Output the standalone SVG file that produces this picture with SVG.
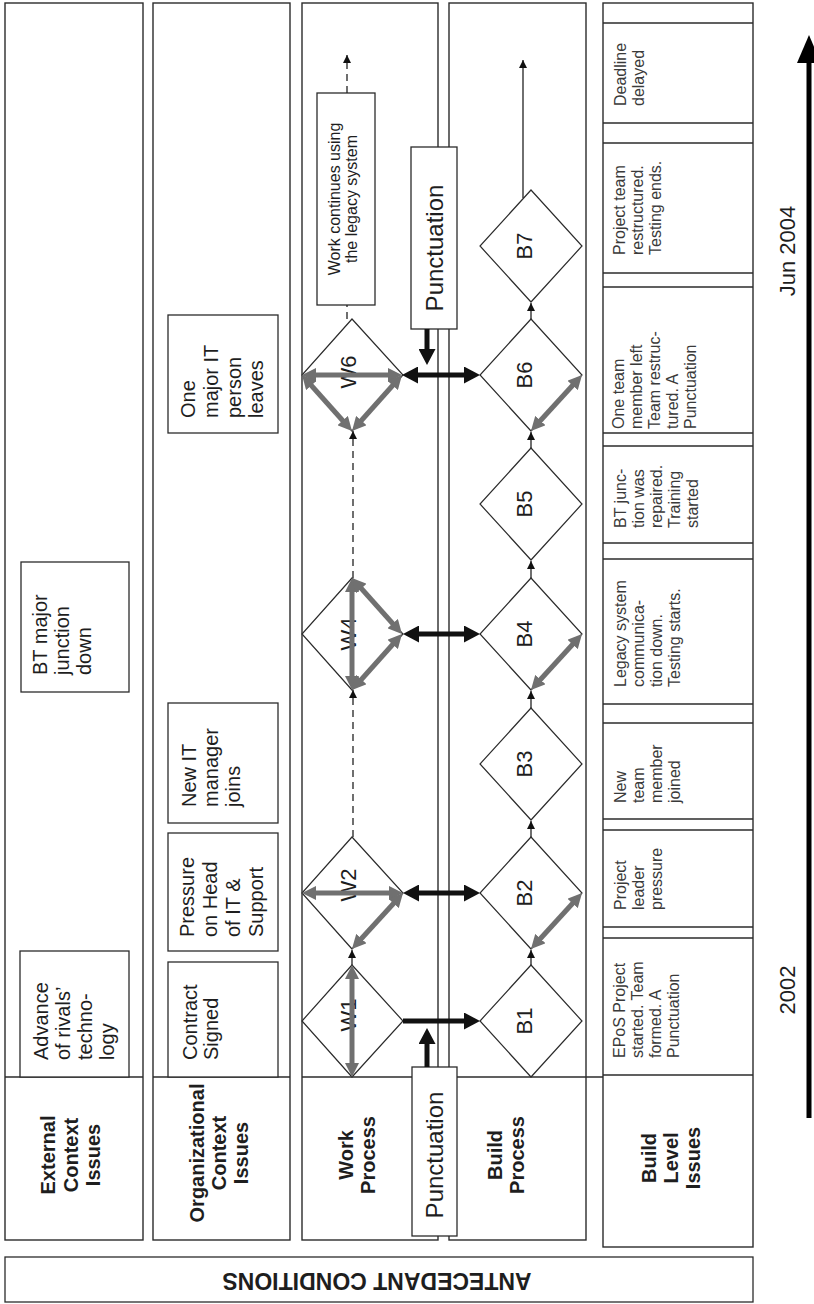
<svg xmlns="http://www.w3.org/2000/svg" width="814" height="1304" viewBox="0 0 814 1304">
  <style>
    .frame { fill: none; stroke: #2b2b2b; stroke-width: 1.4; }
    .box { fill: #fff; stroke: #2b2b2b; stroke-width: 1.3; }
    .dia { fill: #fff; stroke: #2b2b2b; stroke-width: 1.2; }
    .rule { stroke: #2b2b2b; stroke-width: 1.3; }
    text { font-family: "Liberation Sans", Arial, sans-serif; fill: #1e1e1e; }
    .hdr { font-weight: bold; font-size: 20px; text-anchor: middle; }
    .txt { font-size: 20px; }
    .cell { font-size: 16px; fill: #3a3a3a; }
    .lbl { font-size: 22px; text-anchor: middle; }
    .pun { font-size: 24px; text-anchor: middle; }
    .note { font-size: 16px; text-anchor: middle; }
    .axis { font-size: 22px; text-anchor: middle; }
    .blk { stroke: #111; stroke-width: 5; fill: none; }
    .gry { stroke: #707070; stroke-width: 5; fill: none; }
    .thin { stroke: #222; stroke-width: 1.3; fill: none; }
    .dash { stroke-dasharray: 7 5; }
  </style>
  <defs>
    <marker id="bigHead" viewBox="0 -8.5 16 17" refX="8" refY="0" markerWidth="16" markerHeight="17" markerUnits="userSpaceOnUse" orient="auto-start-reverse">
      <path d="M0,-8.5 L16,0 L0,8.5 z" fill="#111"/>
    </marker>
    <marker id="grayHead" viewBox="0 -7 14 14" refX="8" refY="0" markerWidth="14" markerHeight="14" markerUnits="userSpaceOnUse" orient="auto-start-reverse">
      <path d="M0,-7 L14,0 L0,7 z" fill="#707070"/>
    </marker>
    <marker id="smallHead" viewBox="0 -4 8 8" refX="8" refY="0" markerWidth="8" markerHeight="8" markerUnits="userSpaceOnUse" orient="auto">
      <path d="M0,-4 L8,0 L0,4 z" fill="#111"/>
    </marker>
    <marker id="axisHead" viewBox="0 -12 28 24" refX="4" refY="0" markerWidth="28" markerHeight="24" markerUnits="userSpaceOnUse" orient="auto">
      <path d="M0,-12 L28,0 L0,12 z" fill="#000"/>
    </marker>
  </defs>

  <!-- swim-lane columns -->
  <g id="lanes">
    <rect class="frame" x="5" y="3" width="138" height="1237"/>
    <line class="rule" x1="5" y1="1077" x2="143" y2="1077"/>
    <rect class="frame" x="153" y="3" width="137" height="1237"/>
    <line class="rule" x1="153" y1="1077" x2="290" y2="1077"/>
    <rect class="frame" x="302" y="3" width="136" height="1237"/>
    <rect class="frame" x="449" y="3" width="137" height="1237"/>
    <line class="rule" x1="302" y1="1077" x2="603" y2="1077"/>
    <rect class="frame" x="603" y="3" width="150" height="1244"/>
    <line class="rule" x1="603" y1="1075" x2="753" y2="1075" stroke-width="2"/>
    <g class="rule">
      <line x1="603" y1="23" x2="753" y2="23"/>
      <line x1="603" y1="123" x2="753" y2="123"/>
      <line x1="603" y1="143" x2="753" y2="143"/>
      <line x1="603" y1="273" x2="753" y2="273"/>
      <line x1="603" y1="287" x2="753" y2="287"/>
      <line x1="603" y1="433" x2="753" y2="433"/>
      <line x1="603" y1="446" x2="753" y2="446"/>
      <line x1="603" y1="543" x2="753" y2="543"/>
      <line x1="603" y1="559" x2="753" y2="559"/>
      <line x1="603" y1="704" x2="753" y2="704"/>
      <line x1="603" y1="723" x2="753" y2="723"/>
      <line x1="603" y1="819" x2="753" y2="819"/>
      <line x1="603" y1="830" x2="753" y2="830"/>
      <line x1="603" y1="927" x2="753" y2="927"/>
      <line x1="603" y1="938" x2="753" y2="938"/>
    </g>
  </g>

  <!-- lane headers -->
  <g id="hdr-external">
    <text class="hdr" transform="translate(55,1155) rotate(-90)"><tspan x="0">External</tspan><tspan x="0" dy="23">Context</tspan><tspan x="0" dy="22">Issues</tspan></text>
  </g>
  <g id="hdr-organizational">
    <text class="hdr" transform="translate(204,1153) rotate(-90)"><tspan x="0">Organizational</tspan><tspan x="0" dy="22">Context</tspan><tspan x="0" dy="22">Issues</tspan></text>
  </g>
  <g id="hdr-work">
    <text class="hdr" transform="translate(353,1155) rotate(-90)"><tspan x="0">Work</tspan><tspan x="0" dy="22">Process</tspan></text>
  </g>
  <g id="hdr-build">
    <text class="hdr" transform="translate(502,1155) rotate(-90)"><tspan x="0">Build</tspan><tspan x="0" dy="22">Process</tspan></text>
  </g>
  <g id="hdr-build-level">
    <text class="hdr" transform="translate(656,1158) rotate(-90)"><tspan x="0">Build</tspan><tspan x="0" dy="22">Level</tspan><tspan x="0" dy="22">Issues</tspan></text>
  </g>

  <!-- external context events -->
  <g id="ext-rivals">
    <rect class="box" x="20" y="951" width="109" height="126"/>
    <text class="txt" transform="translate(48,1060) rotate(-90)"><tspan x="0">Advance</tspan><tspan x="0" dy="22">of rivals’</tspan><tspan x="0" dy="22">techno-</tspan><tspan x="0" dy="22">logy</tspan></text>
  </g>
  <g id="ext-bt">
    <rect class="box" x="21" y="562" width="108" height="130"/>
    <text class="txt" transform="translate(47,675) rotate(-90)"><tspan x="0">BT major</tspan><tspan x="0" dy="22">junction</tspan><tspan x="0" dy="22">down</tspan></text>
  </g>

  <!-- organizational context events -->
  <g id="org-contract">
    <rect class="box" x="168" y="962" width="110" height="115"/>
    <text class="txt" transform="translate(197,1060) rotate(-90)"><tspan x="0">Contract</tspan><tspan x="0" dy="21">Signed</tspan></text>
  </g>
  <g id="org-pressure">
    <rect class="box" x="168" y="833" width="110" height="118"/>
    <text class="txt" transform="translate(194,937) rotate(-90)"><tspan x="0">Pressure</tspan><tspan x="0" dy="23">on Head</tspan><tspan x="0" dy="23">of IT &amp;</tspan><tspan x="0" dy="23">Support</tspan></text>
  </g>
  <g id="org-manager">
    <rect class="box" x="168" y="703" width="110" height="120"/>
    <text class="txt" transform="translate(196,807) rotate(-90)"><tspan x="0">New IT</tspan><tspan x="0" dy="22">manager</tspan><tspan x="0" dy="22">joins</tspan></text>
  </g>
  <g id="org-leaves">
    <rect class="box" x="168" y="315" width="110" height="118"/>
    <text class="txt" transform="translate(195,418) rotate(-90)"><tspan x="0">One</tspan><tspan x="0" dy="23">major IT</tspan><tspan x="0" dy="23">person</tspan><tspan x="0" dy="22">leaves</tspan></text>
  </g>

  <!-- work process episodes -->
  <g id="W1">
    <polygon class="dia" points="352,965 403,1021 352,1077 302,1021"/>
    <text class="lbl" transform="translate(356,1015) rotate(-90)">W1</text>
  </g>
  <g id="W2">
    <polygon class="dia" points="352,837 403,893 352,949 302,893"/>
    <text class="lbl" transform="translate(356,885) rotate(-90)">W2</text>
  </g>
  <g id="W4">
    <polygon class="dia" points="352,578 403,634 352,690 302,634"/>
    <text class="lbl" transform="translate(356,634) rotate(-90)">W4</text>
  </g>
  <g id="W6">
    <polygon class="dia" points="352,319 403,375 352,431 302,375"/>
    <text class="lbl" transform="translate(356,372) rotate(-90)">W6</text>
  </g>
  <g id="legacy-note">
    <rect class="box" x="317" y="93" width="58" height="212"/>
    <text class="note" transform="translate(340,199) rotate(-90)"><tspan x="0">Work continues using</tspan><tspan x="0" dy="17">the legacy system</tspan></text>
  </g>

  <!-- build process episodes -->
  <g id="B1">
    <polygon class="dia" points="531,965 582,1021 531,1077 480,1021"/>
    <text class="lbl" transform="translate(532,1021) rotate(-90)">B1</text>
  </g>
  <g id="B2">
    <polygon class="dia" points="531,837 582,893 531,949 480,893"/>
    <text class="lbl" transform="translate(532,893) rotate(-90)">B2</text>
  </g>
  <g id="B3">
    <polygon class="dia" points="531,708 582,764 531,820 480,764"/>
    <text class="lbl" transform="translate(532,764) rotate(-90)">B3</text>
  </g>
  <g id="B4">
    <polygon class="dia" points="531,578 582,634 531,690 480,634"/>
    <text class="lbl" transform="translate(532,634) rotate(-90)">B4</text>
  </g>
  <g id="B5">
    <polygon class="dia" points="531,448 582,504 531,560 480,504"/>
    <text class="lbl" transform="translate(532,504) rotate(-90)">B5</text>
  </g>
  <g id="B6">
    <polygon class="dia" points="531,319 582,375 531,431 480,375"/>
    <text class="lbl" transform="translate(532,375) rotate(-90)">B6</text>
  </g>
  <g id="B7">
    <polygon class="dia" points="531,190 582,246 531,302 480,246"/>
    <text class="lbl" transform="translate(532,246) rotate(-90)">B7</text>
  </g>

  <!-- punctuation markers -->
  <g id="punctuation-1">
    <rect class="box" x="412" y="1067" width="45" height="169"/>
    <text class="pun" transform="translate(443,1155) rotate(-90)">Punctuation</text>
  </g>
  <g id="punctuation-2">
    <rect class="box" x="411" y="147" width="46" height="182"/>
    <text class="pun" transform="translate(443,248) rotate(-90)">Punctuation</text>
  </g>

  <!-- build level issues -->
  <g id="issue-1">
    <text class="cell" transform="translate(625,1058) rotate(-90)"><tspan x="0">EPoS Project</tspan><tspan x="0" dy="18">started. Team</tspan><tspan x="0" dy="18">formed.  A</tspan><tspan x="0" dy="18">Punctuation</tspan></text>
  </g>
  <g id="issue-2">
    <text class="cell" transform="translate(626,910) rotate(-90)"><tspan x="0">Project</tspan><tspan x="0" dy="18">leader</tspan><tspan x="0" dy="18">pressure</tspan></text>
  </g>
  <g id="issue-3">
    <text class="cell" transform="translate(626,803) rotate(-90)"><tspan x="0">New</tspan><tspan x="0" dy="18">team</tspan><tspan x="0" dy="18">member</tspan><tspan x="0" dy="18">joined</tspan></text>
  </g>
  <g id="issue-4">
    <text class="cell" transform="translate(626,687) rotate(-90)"><tspan x="0">Legacy system</tspan><tspan x="0" dy="18">communica-</tspan><tspan x="0" dy="18">tion down.</tspan><tspan x="0" dy="18">Testing starts.</tspan></text>
  </g>
  <g id="issue-5">
    <text class="cell" transform="translate(626,528) rotate(-90)"><tspan x="0">BT  junc-</tspan><tspan x="0" dy="18">tion was</tspan><tspan x="0" dy="18">repaired.</tspan><tspan x="0" dy="18">Training</tspan><tspan x="0" dy="18">started</tspan></text>
  </g>
  <g id="issue-6">
    <text class="cell" transform="translate(624,429) rotate(-90)"><tspan x="0">One team</tspan><tspan x="0" dy="18">member left</tspan><tspan x="0" dy="18">Team restruc-</tspan><tspan x="0" dy="18">tured.  A</tspan><tspan x="0" dy="18">Punctuation</tspan></text>
  </g>
  <g id="issue-7">
    <text class="cell" transform="translate(625,255) rotate(-90)"><tspan x="0">Project team</tspan><tspan x="0" dy="18">restructured.</tspan><tspan x="0" dy="18">Testing ends.</tspan></text>
  </g>
  <g id="issue-8">
    <text class="cell" transform="translate(626,106) rotate(-90)"><tspan x="0">Deadline</tspan><tspan x="0" dy="18">delayed</tspan></text>
  </g>

  <!-- antecedent conditions band -->
  <g id="antecedent">
    <rect class="box" x="5" y="1257" width="748" height="45"/>
    <text class="hdr" style="font-size:23px" transform="translate(377,1281) rotate(180)" y="8">ANTECEDANT CONDITIONS</text>
  </g>

  <!-- time axis -->
  <g id="time-axis">
    <line x1="809" y1="1118" x2="809" y2="59" stroke="#000" stroke-width="5" marker-end="url(#axisHead)"/>
    <text class="axis" transform="translate(795,990) rotate(-90)">2002</text>
    <text class="axis" transform="translate(795,251) rotate(-90)">Jun 2004</text>
  </g>

  <!-- connectors -->
  <g id="connectors">
    <!-- work sequence -->
    <line class="thin" x1="352" y1="965" x2="352" y2="950" marker-end="url(#smallHead)"/>
    <line class="thin dash" x1="353" y1="837" x2="353" y2="690" marker-end="url(#smallHead)"/>
    <line class="thin dash" x1="353" y1="578" x2="353" y2="431" marker-end="url(#smallHead)"/>
    <line class="thin dash" x1="347" y1="319" x2="347" y2="305"/>
    <line class="thin dash" x1="347" y1="93" x2="347" y2="55" marker-end="url(#smallHead)"/>
    <!-- build sequence -->
    <line class="thin" x1="531" y1="965" x2="531" y2="950" marker-end="url(#smallHead)"/>
    <line class="thin" x1="531" y1="837" x2="531" y2="821" marker-end="url(#smallHead)"/>
    <line class="thin" x1="531" y1="708" x2="531" y2="691" marker-end="url(#smallHead)"/>
    <line class="thin" x1="531" y1="578" x2="531" y2="561" marker-end="url(#smallHead)"/>
    <line class="thin" x1="531" y1="448" x2="531" y2="432" marker-end="url(#smallHead)"/>
    <line class="thin" x1="531" y1="319" x2="531" y2="303" marker-end="url(#smallHead)"/>
    <line class="thin" x1="523" y1="198" x2="523" y2="60" marker-end="url(#smallHead)"/>
    <!-- work / build links -->
    <line class="blk" x1="403" y1="1021" x2="472" y2="1021" marker-end="url(#bigHead)"/>
    <line class="blk" x1="411" y1="893" x2="472" y2="893" marker-start="url(#bigHead)" marker-end="url(#bigHead)"/>
    <line class="blk" x1="411" y1="634" x2="472" y2="634" marker-start="url(#bigHead)" marker-end="url(#bigHead)"/>
    <line class="blk" x1="410" y1="375" x2="472" y2="375" marker-start="url(#bigHead)" marker-end="url(#bigHead)"/>
    <!-- punctuation impacts -->
    <line class="blk" x1="427" y1="1067" x2="427" y2="1036" marker-end="url(#bigHead)"/>
    <line class="blk" x1="427" y1="329" x2="427" y2="357" marker-end="url(#bigHead)"/>
    <!-- episode internal links -->
    <line class="gry" x1="352" y1="971" x2="352" y2="1071" marker-start="url(#grayHead)" marker-end="url(#grayHead)"/>
    <line class="gry" x1="308" y1="893" x2="397" y2="893" marker-start="url(#grayHead)" marker-end="url(#grayHead)"/>
    <line class="gry" x1="399" y1="897.5" x2="356" y2="944.5" marker-start="url(#grayHead)" marker-end="url(#grayHead)"/>
    <line class="gry" x1="352" y1="584" x2="352" y2="684" marker-start="url(#grayHead)" marker-end="url(#grayHead)"/>
    <line class="gry" x1="356" y1="582.5" x2="398" y2="629.5" marker-start="url(#grayHead)" marker-end="url(#grayHead)"/>
    <line class="gry" x1="356" y1="685.5" x2="398" y2="638.5" marker-start="url(#grayHead)" marker-end="url(#grayHead)"/>
    <line class="gry" x1="308" y1="375" x2="396" y2="375" marker-start="url(#grayHead)" marker-end="url(#grayHead)"/>
    <line class="gry" x1="306" y1="379.5" x2="348" y2="426.5" marker-start="url(#grayHead)" marker-end="url(#grayHead)"/>
    <line class="gry" x1="398" y1="379.5" x2="356" y2="426.5" marker-start="url(#grayHead)" marker-end="url(#grayHead)"/>
    <line class="gry" x1="535" y1="944.5" x2="578" y2="897.5" marker-start="url(#grayHead)" marker-end="url(#grayHead)"/>
    <line class="gry" x1="535" y1="685.5" x2="578" y2="638.5" marker-start="url(#grayHead)" marker-end="url(#grayHead)"/>
    <line class="gry" x1="535" y1="426.5" x2="578" y2="379.5" marker-start="url(#grayHead)" marker-end="url(#grayHead)"/>
  </g>
</svg>
